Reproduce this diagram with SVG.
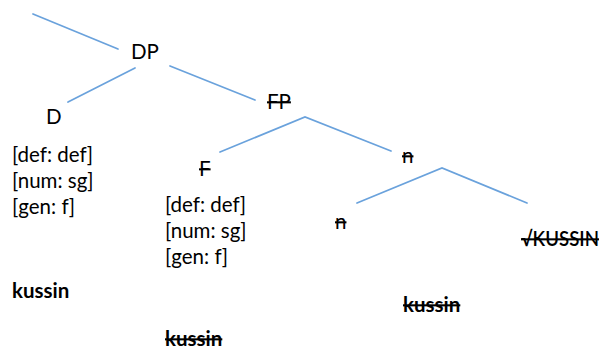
<svg xmlns="http://www.w3.org/2000/svg" width="601" height="352" viewBox="0 0 601 352">
  <style>
    text { font-family: Lato, "Open Sans", "Liberation Sans", sans-serif; font-size: 20.5px; fill: #000; }
    .b { font-weight: bold; }
    .s { text-decoration: line-through; }
    .edge { stroke: #6aa2dc; stroke-width: 1.7; fill: none; stroke-linecap: round; }
  </style>
  <rect width="601" height="352" fill="#fff"/>
  <g id="connectors">
    <line class="edge" x1="33" y1="14" x2="118" y2="49"/>
    <line class="edge" x1="135" y1="68" x2="68" y2="102"/>
    <line class="edge" x1="170" y1="66" x2="255" y2="100"/>
    <polyline class="edge" points="220,152 305,117 391,151"/>
    <polyline class="edge" points="357,203 442,168 527,203"/>
  </g>
  <g id="DP"><text x="131" y="59">DP</text></g>
  <g id="D">
    <text x="46" y="124">D</text>
    <text x="12" y="162">[def: def]</text>
    <text x="12" y="188">[num: sg]</text>
    <text x="12" y="214">[gen: f]</text>
    <text class="b" x="12" y="298">kussin</text>
  </g>
  <g id="FP"><text class="s" x="267" y="109">FP</text></g>
  <g id="F">
    <text class="s" x="199" y="176">F</text>
    <text x="165" y="212">[def: def]</text>
    <text x="165" y="238">[num: sg]</text>
    <text x="165" y="264">[gen: f]</text>
    <text class="b s" x="165" y="346">kussin</text>
  </g>
  <g id="nP"><text class="s" x="402" y="163">n</text></g>
  <g id="n">
    <text class="s" x="335" y="229">n</text>
    <text class="b s" x="403" y="312">kussin</text>
  </g>
  <g id="root"><text class="s" x="521" y="246" font-weight="600" textLength="78" lengthAdjust="spacingAndGlyphs">√KUSSIN</text></g>
</svg>
